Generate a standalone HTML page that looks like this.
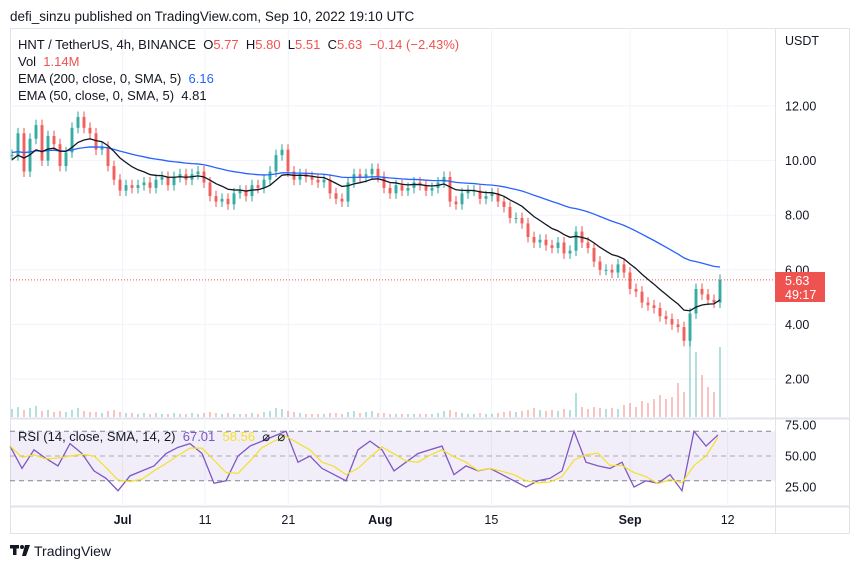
<!DOCTYPE html>
<html><head><meta charset="utf-8"><style>
body{margin:0;background:#fff;font-family:"Liberation Sans",sans-serif;}
svg text{font-family:"Liberation Sans",sans-serif;white-space:pre;}
</style></head><body>
<svg id="c" width="860" height="569" xmlns="http://www.w3.org/2000/svg">
<text x="10" y="21" font-size="13.5" fill="#131722">defi_sinzu published on TradingView.com, Sep 10, 2022 19:10 UTC</text>
<rect x="10.5" y="28.5" width="839" height="505" fill="none" stroke="#e0e3eb"/>
<line x1="775.5" y1="28" x2="775.5" y2="534" stroke="#e0e3eb"/>
<line x1="10" y1="418.5" x2="850" y2="418.5" stroke="#e0e3eb" stroke-width="2"/>
<line x1="10" y1="506.5" x2="850" y2="506.5" stroke="#e0e3eb" stroke-width="2"/>
<g id="grid"></g><g id="vol"></g><g id="candles"></g><g id="lines"></g><g id="rsi"></g><g id="axes"></g>
<text x="18" y="49" font-size="13" fill="#131722" xml:space="preserve">HNT / TetherUS, 4h, BINANCE  O<tspan fill="#ef5350">5.77</tspan>  H<tspan fill="#ef5350">5.80</tspan>  L<tspan fill="#ef5350">5.51</tspan>  C<tspan fill="#ef5350">5.63</tspan>  <tspan fill="#ef5350">−0.14 (−2.43%)</tspan></text>
<text x="18" y="66" font-size="13" fill="#131722" xml:space="preserve">Vol  <tspan fill="#ef5350">1.14M</tspan></text>
<text x="18" y="83" font-size="13" fill="#131722" xml:space="preserve">EMA (200, close, 0, SMA, 5)  <tspan fill="#2962ff">6.16</tspan></text>
<text x="18" y="100" font-size="13" fill="#131722" xml:space="preserve">EMA (50, close, 0, SMA, 5)  4.81</text>
<text x="18" y="441" font-size="13" fill="#131722" xml:space="preserve">RSI (14, close, SMA, 14, 2)  <tspan fill="#7e57c2">67.01</tspan>  <tspan fill="#f5e02a">58.56</tspan>  ⌀  ⌀</text>
<text x="785" y="45" font-size="12.5" fill="#131722">USDT</text>
<rect x="775" y="272" width="50" height="30" fill="#ef5350"/>
<text x="785" y="285" font-size="12.5" fill="#fff">5.63</text>
<text x="785" y="299" font-size="12.5" fill="#fff">49:17</text>
<g><rect x="10" y="545" width="9" height="3.5" fill="#131722"/><rect x="13" y="545" width="3.5" height="10" fill="#131722"/><circle cx="22" cy="547" r="2" fill="#131722"/><path d="M25 545 L30 545 L26 556 L22 556 Z" fill="#131722"/>
<text x="34" y="556" font-size="14" fill="#131722">TradingView</text></g>
</svg>
<script>
const closes=[10.2,11.0,9.6,10.8,11.3,10.0,10.9,10.6,9.8,10.3,11.2,11.6,11.2,11.0,10.4,10.5,9.8,9.3,8.9,9.1,9.0,9.1,9.2,9.0,9.3,9.4,9.1,9.4,9.5,9.3,9.5,9.6,9.2,8.7,8.5,8.6,8.4,8.8,8.9,8.7,9.1,9.0,9.3,9.6,10.2,10.4,9.6,9.3,9.5,9.4,9.3,9.2,9.3,8.8,8.6,8.5,9.2,9.5,9.4,9.5,9.7,9.4,9.0,8.8,9.1,8.9,9.0,9.2,9.1,8.9,9.0,9.2,9.4,8.5,8.4,8.8,8.9,8.9,8.6,8.7,8.8,8.5,8.3,7.9,7.9,7.7,7.2,7.0,7.1,6.9,6.8,7.0,6.6,6.7,7.4,7.0,6.8,6.3,6.0,6.0,5.9,6.2,5.9,5.3,5.2,4.8,4.7,4.6,4.3,4.2,4.0,3.9,3.4,4.4,5.3,5.1,4.9,4.8,5.63];
const volumes=[0.8,1.0,0.7,0.9,1.1,0.6,0.7,0.5,0.6,0.5,0.7,0.9,0.6,0.5,0.5,0.4,0.6,0.7,0.5,0.4,0.4,0.3,0.4,0.3,0.4,0.3,0.3,0.4,0.3,0.3,0.4,0.3,0.4,0.5,0.4,0.3,0.4,0.3,0.3,0.3,0.4,0.3,0.5,0.6,0.9,0.8,0.6,0.5,0.4,0.3,0.3,0.3,0.3,0.4,0.4,0.3,0.5,0.6,0.4,0.5,0.6,0.4,0.4,0.3,0.3,0.3,0.3,0.3,0.3,0.3,0.3,0.4,0.6,0.7,0.5,0.4,0.3,0.3,0.4,0.3,0.3,0.4,0.5,0.6,0.5,0.6,0.7,0.9,0.7,0.6,0.7,0.6,0.8,0.7,2.4,1.0,0.8,1.0,0.9,0.8,0.9,0.8,1.2,1.4,1.0,1.6,1.4,1.8,2.2,1.8,2.0,3.4,2.5,7.8,6.5,4.2,3.0,2.5,7.0];
const rsiVals=[58,40,55,48,42,60,52,38,32,22,34,38,42,52,57,60,52,28,30,50,58,62,66,70,45,50,40,35,30,55,62,55,38,45,52,55,58,35,42,38,40,35,30,25,30,32,38,70,45,42,40,45,25,30,28,35,22,70,58,67];
const priceTicks=[12,10,8,6,4,2];
const rsiTicks=[75,50,25];
const timeLabels=["Jul","11","21","Aug","15","Sep","12"];
const timeDays=[14.2,24.6,35.1,46.7,60.7,78.2,90.5]; // days since Jun 17
const NS="http://www.w3.org/2000/svg";
const py=p=>106+(12-p)*27.3;
const ry=r=>456-(r-50)*1.24;
const dx=d=>10+d*7.93;
const cx=i=>12+i*6;
const rx=i=>10+i*12;
const vy=v=>417-v*10;
function mk(tag,attrs,parent){const e=document.createElementNS(NS,tag);for(const k in attrs)e.setAttribute(k,attrs[k]);document.getElementById(parent).appendChild(e);return e;}
priceTicks.forEach(p=>{const l=mk('line',{x1:10,x2:775,y1:py(p),y2:py(p),stroke:'#f0f3fa'},'grid');


const t=mk('text',{x:785,y:py(p)+4.5,'font-size':12.5,fill:'#131722'},'axes');t.textContent=p.toFixed(2);

});
timeDays.forEach((d,i)=>{const l=mk('line',{x1:dx(d),x2:dx(d),y1:28,y2:506,stroke:'#f0f3fa'},'grid');


const t=mk('text',{x:dx(d),y:524,'font-size':12.5,fill:'#131722','text-anchor':'middle','font-weight':(isNaN(+timeLabels[i])?'bold':'normal')},'axes');t.textContent=timeLabels[i];

});
const bg=mk('rect',{x:10,y:ry(70),width:765,height:ry(30)-ry(70),fill:'#7e57c2','fill-opacity':0.1},'rsi');


[70,50,30].forEach(v=>{const l=mk('line',{x1:10,x2:775,y1:ry(v),y2:ry(v),stroke:'#787b86','stroke-dasharray':'5,4','stroke-opacity':v==50?0.6:0.9},'rsi');

});
rsiTicks.forEach(r=>{const t=mk('text',{x:785,y:ry(r)+4.5,'font-size':12.5,fill:'#131722'},'axes');t.textContent=r.toFixed(2);

});
closes.forEach((c,i)=>{const o=i?closes[i-1]:c;const up=c>=o;const col=up?'#26a69a':'#ef5350';
const v=mk('rect',{x:cx(i)-1,y:vy(volumes[i]),width:2,height:417-vy(volumes[i]),fill:col,'fill-opacity':0.35},'vol');


const hi=Math.max(o,c)+0.2,lo=Math.min(o,c)-0.2;
const w=mk('line',{x1:cx(i),x2:cx(i),y1:py(hi),y2:py(lo),stroke:col},'candles');


const b=mk('rect',{x:cx(i)-1.5,y:py(Math.max(o,c)),width:3,height:Math.max(1,Math.abs(py(o)-py(c))),fill:col,'fill-opacity':0.85},'candles');

});
function ema(n,seed){let e=seed;return closes.map(c=>{e=e+(c-e)*2/(n+1);return e;});}
[[ema(44,10.3),'#2962ff','ema200-line'],[ema(11,10.0),'#131722','ema50-line']].forEach(([a,col,nm])=>{
const p=mk('path',{d:a.map((v,i)=>(i?'L':'M')+cx(i)+' '+py(v)).join(''),fill:'none',stroke:col,'stroke-width':1.3},'lines');

});
const last=mk('line',{x1:10,x2:775,y1:py(5.63),y2:py(5.63),stroke:'#ef5350','stroke-dasharray':'1,2'},'lines');


const sig=rsiVals.map((v,i)=>{const s=rsiVals.slice(Math.max(0,i-2),i+1);return s.reduce((a,b)=>a+b,0)/s.length;});
const rp=mk('path',{d:rsiVals.map((v,i)=>(i?'L':'M')+rx(i)+' '+ry(v)).join(''),fill:'none',stroke:'#7e57c2','stroke-width':1.3},'rsi');


const sp=mk('path',{d:sig.map((v,i)=>(i?'L':'M')+rx(i)+' '+ry(v)).join(''),fill:'none',stroke:'#f5e02a','stroke-width':1.2},'rsi');


</script>
</body></html>
